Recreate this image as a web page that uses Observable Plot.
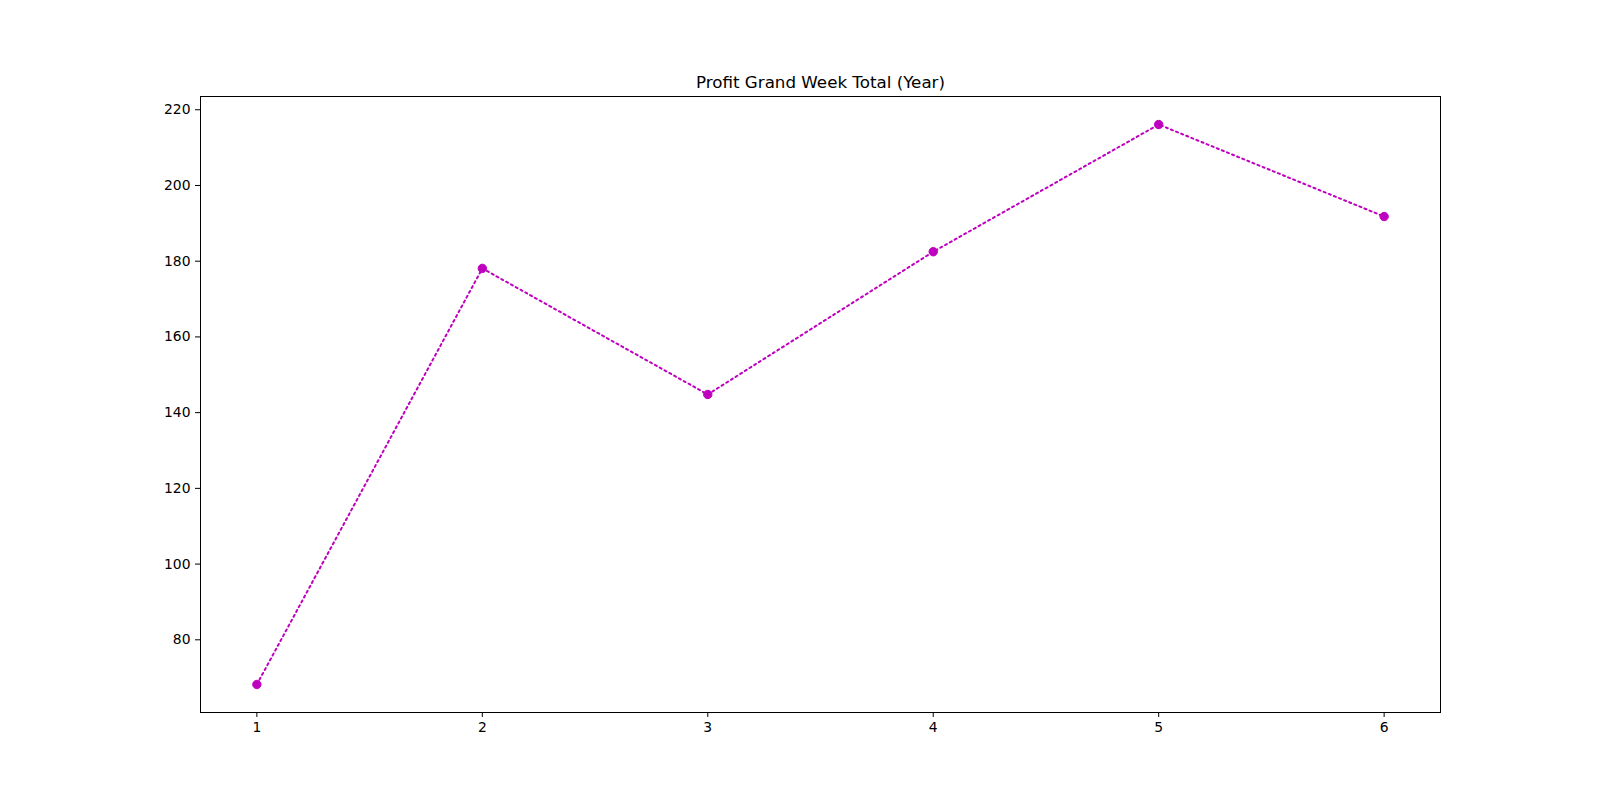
<!DOCTYPE html>
<html>
<head>
<meta charset="utf-8">
<script src="https://cdn.jsdelivr.net/npm/d3@7"></script>
<script src="https://cdn.jsdelivr.net/npm/@observablehq/plot@0.6"></script>
<style>
  html, body { margin: 0; padding: 0; background: #fff; }
  #chart svg { display: block; }
</style>
</head>
<body>
<div id="chart"></div>
<script>
const titleText = "Profit Grand Week Total (Year)";
const weeks = [1, 2, 3, 4, 5, 6];
const profits = [68.2, 178.1, 144.8, 182.5, 216.1, 191.8];
const xTicks = [1, 2, 3, 4, 5, 6];
const yTicks = [80, 100, 120, 140, 160, 180, 200, 220];

const data = weeks.map((w, i) => ({ week: w, profit: profits[i] }));
const color = "#bf00bf";

const chart = Plot.plot({
  width: 1600,
  height: 800,
  marginLeft: 200,
  marginRight: 160,
  marginTop: 96,
  marginBottom: 88,
  style: { fontFamily: "DejaVu Sans", fontSize: "13.9px", color: "#000", background: "#fff" },
  x: { domain: [0.75, 6.25], ticks: xTicks, tickSize: 5, tickPadding: 5, label: null, tickFormat: d3.format("d") },
  y: { domain: [60.8, 223.5], ticks: yTicks, tickSize: 5, tickPadding: 5, label: null, tickFormat: d3.format("d") },
  marks: [
    Plot.frame({ stroke: "#000", strokeWidth: 1 }),
    Plot.line(data, { x: "week", y: "profit", stroke: color, strokeWidth: 2, strokeDasharray: "2.1,3.4" }),
    Plot.dot(data, { x: "week", y: "profit", r: 4.2, fill: color, stroke: color, strokeWidth: 1 }),
    Plot.text([titleText], { text: d => d, frameAnchor: "top", dy: -9, lineAnchor: "bottom", fontSize: 16.7, fill: "#000" })
  ]
});
document.getElementById("chart").appendChild(chart);
</script>
</body>
</html>
